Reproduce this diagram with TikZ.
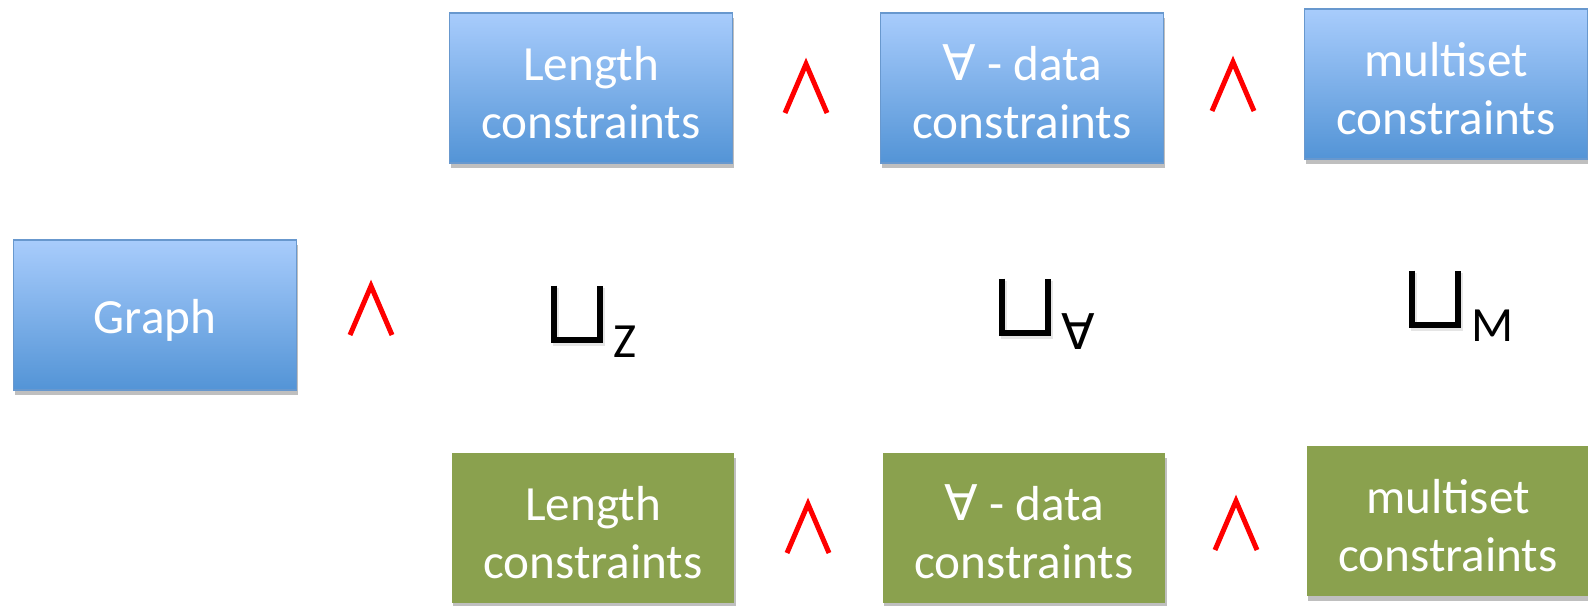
\documentclass[tikz,border=0pt]{standalone}
\usepackage{fontspec}
\setmainfont{Carlito}
\newfontfamily\symfont{DejaVu Sans}
\usetikzlibrary{shadows}
\definecolor{bxtop}{RGB}{168,204,252}
\definecolor{bxbot}{RGB}{83,148,214}
\definecolor{bxline}{RGB}{104,152,206}
\definecolor{qgreen}{RGB}{138,161,78}
\newcommand{\lift}{\rule{0pt}{25pt}}

\begin{document}
\begin{tikzpicture}[
    x=0.02cm, y=-0.02cm,
    box/.style={minimum width=5.66cm, minimum height=3cm, align=center, text=white,
        font=\fontsize{28}{33}\selectfont,
        drop shadow={shadow xshift=1pt, shadow yshift=-3pt, opacity=0.25, fill=black}},
    bluebox/.style={box, draw=bxline, line width=1pt, top color=bxtop, bottom color=bxbot},
    greenbox/.style={box, fill=qgreen},
    andsym/.style={draw=red, line width=0.1cm, line join=miter},
    joinsym/.style={draw=black, line width=0.12cm, line join=miter},
    sub/.style={inner sep=0pt, font=\fontsize{28}{33}\selectfont}
]
    \useasboundingbox (0,0) rectangle (1588,605);

    % Boxes
    \node[bluebox] (graph) at (155,315) {\lift Graph};
    \node[bluebox] (lenT) at (591,88) {\lift Length\\constraints};
    \node[bluebox] (forallT) at (1022,88) {\lift{\symfont ∀} - data\\constraints};
    \node[bluebox] (msetT) at (1446,84) {\lift multiset\\constraints};
    \node[greenbox] (lenB) at (593,528) {\lift Length\\constraints};
    \node[greenbox] (forallB) at (1024,528) {\lift{\symfont ∀} - data\\constraints};
    \node[greenbox] (msetB) at (1448,521) {\lift multiset\\constraints};

    % Conjunctions
    \foreach \x/\y in {371/310, 806/88, 1233/86, 808/528, 1236/525} {
        \draw[andsym] (\x-21,\y+25) -- (\x,\y-24) -- (\x+21,\y+25);
    }

    % Joins
    \foreach \x/\y in {577/314, 1025/307, 1435/299} {
        \draw[joinsym, black!10] (\x-21,\y-26) -- (\x-21,\y+29) -- (\x+25,\y+29) -- (\x+25,\y-26);
        \draw[joinsym] (\x-23,\y-28.5) -- (\x-23,\y+25.5) -- (\x+23,\y+25.5) -- (\x+23,\y-28.5);
    }
    \node[sub] (subZ) at (625,342) {Z};
    \node[sub] (subA) at (1078,332) {\symfont ∀};
    \node[sub] (subM) at (1493,326) {M};
\end{tikzpicture}
\end{document}
